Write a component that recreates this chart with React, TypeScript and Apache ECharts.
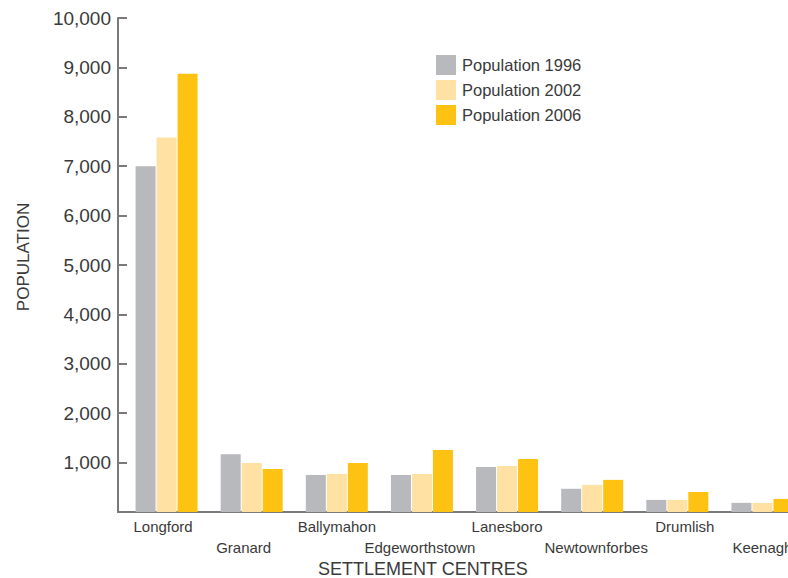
import React, { useEffect, useRef } from "react";
import * as echarts from "echarts";

const categories = ["Longford", "Granard", "Ballymahon", "Edgeworthstown", "Lanesboro", "Newtownforbes", "Drumlish", "Keenagh"];
const pop1996 = [7000, 1170, 750, 750, 910, 470, 245, 185];
const pop2002 = [7580, 990, 770, 770, 930, 550, 245, 185];
const pop2006 = [8870, 870, 990, 1255, 1075, 650, 405, 265];
const seriesNames = ["Population 1996", "Population 2002", "Population 2006"];
const colors = ["#b8b9bc", "#fee1a3", "#fec212"];
// horizontal nudge of each category label (px), styling only
const labelShift = [-3.5, -8, 0, -2, 0, 4, 7.5, 0];

const FONT = "'Liberation Sans', Arial, Helvetica, sans-serif";
const TEXT = "#3a3a3a";
const AXIS = "#7a7a7a";

export default function App() {
  const ref = useRef<HTMLDivElement>(null);
  useEffect(() => {
    if (!ref.current) return;
    const chart = echarts.init(ref.current, undefined, { renderer: "svg" });
    const data = [pop1996, pop2002, pop2006];
    const rich: Record<string, any> = {};
    labelShift.forEach((d, i) => {
      rich["r" + i] = {
        fontSize: 15,
        lineHeight: 21,
        color: TEXT,
        fontFamily: FONT,
        padding: d >= 0 ? [0, 0, 0, 2 * d] : [0, -2 * d, 0, 0],
      };
    });
    chart.setOption({
      animation: false,
      textStyle: { fontFamily: FONT },
      title: {
        text: "SETTLEMENT CENTRES",
        left: 318,
        top: 560,
        padding: 0,
        textStyle: { fontFamily: FONT, fontSize: 18, fontWeight: "normal", color: TEXT },
      },
      legend: {
        orient: "vertical",
        left: 436,
        top: 55,
        padding: 0,
        itemWidth: 20,
        itemHeight: 20,
        itemGap: 5,
        icon: "rect",
        data: seriesNames,
        textStyle: { fontFamily: FONT, fontSize: 16.5, color: TEXT, padding: [0, 0, 0, 1] },
      },
      grid: { left: 124, right: 25, top: 18, bottom: 66, containLabel: false },
      xAxis: {
        type: "category",
        data: categories,
        axisLine: { lineStyle: { color: AXIS, width: 2 } },
        axisTick: { show: false },
        axisLabel: {
          interval: 0,
          margin: 4,
          fontSize: 15,
          lineHeight: 21,
          color: TEXT,
          fontFamily: FONT,
          rich,
          formatter: (v: string, i: number) => (i % 2 ? "\n" : "") + "{r" + i + "|" + v + "}",
        },
      },
      yAxis: {
        type: "value",
        min: 0,
        max: 10000,
        interval: 1000,
        offset: 6,
        name: "POPULATION",
        nameLocation: "middle",
        nameGap: 86,
        nameTextStyle: { fontFamily: FONT, fontSize: 17, color: TEXT, padding: [0, 0, 0, 16] },
        axisLine: { show: true, lineStyle: { color: AXIS, width: 2 } },
        axisTick: { show: true, inside: true, length: 9, lineStyle: { color: AXIS, width: 2 } },
        splitLine: { show: false },
        axisLabel: {
          margin: 7,
          fontSize: 19,
          color: TEXT,
          fontFamily: FONT,
          formatter: (v: number) => (v === 0 ? "" : v.toLocaleString("en-US")),
        },
      },
      graphic: [
        {
          type: "line",
          shape: { x1: 117, y1: 512, x2: 125, y2: 512 },
          style: { stroke: AXIS, lineWidth: 2 },
        },
      ],
      series: seriesNames.map((name, k) => ({
        name,
        type: "bar",
        data: data[k],
        barWidth: 20,
        barGap: "5%",
        itemStyle: { color: colors[k] },
      })),
    });
    return () => chart.dispose();
  }, []);
  return (
    <div style={{ position: "fixed", left: 0, top: 0, width: 788, height: 578, overflow: "hidden", background: "#fff" }}>
      <div ref={ref} style={{ width: 830, height: 578 }} />
    </div>
  );
}
